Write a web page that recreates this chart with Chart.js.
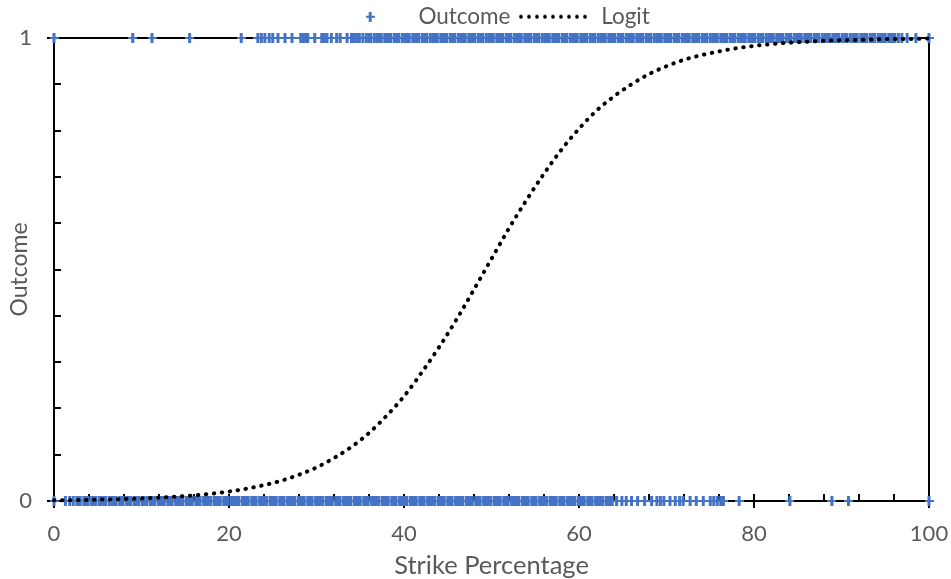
<!DOCTYPE html>
<html>
<head>
<meta charset="utf-8">
<script src="https://cdn.jsdelivr.net/npm/chart.js@4.4.1/dist/chart.umd.min.js"></script>
<style>
  body { margin: 0; background: #fff; }
  canvas { display: block; }
</style>
</head>
<body>
<canvas id="chart" width="951" height="579"></canvas>
<script>
// ---- data ----
// strike percentage of the observations with outcome 0
const outcomeZeroX = [
  0, 1.3, 1.8, 2.2,
  2.6, 2.9, 3.0, 3.4, 3.7, 3.9, 4.3, 4.5, 4.8, 5.2, 5.4, 5.7, 5.9, 6.3, 6.6, 6.8, 7.1, 7.5, 7.7, 7.9, 8.3, 8.6, 8.8, 9.2, 9.4, 9.7,
  10.1, 10.3, 10.6, 11.0, 11.2, 11.5, 11.9, 12.1, 12.4, 12.6, 13.0, 13.3, 13.5, 13.9, 14.2, 14.4, 14.7, 15.1, 15.3, 15.6, 15.8, 16.2, 16.5, 16.7, 17.1, 17.4, 17.6, 17.9, 18.3, 18.5, 18.8, 19.0, 19.4, 19.7, 19.9,
  20.3, 20.6, 20.8, 21.1, 21.5, 21.7, 22.0, 22.2, 22.6, 22.9, 23.1, 23.5, 23.8, 24.0, 24.3, 24.7, 24.9, 25.2, 25.4, 25.8, 26.1, 26.3, 26.7, 27.0, 27.2, 27.5, 27.9, 28.1, 28.4, 28.6, 29.0, 29.3, 29.5, 29.9,
  30.2, 30.4, 30.7, 31.1, 31.3, 31.6, 31.8, 32.2, 32.5, 32.7, 33.1, 33.4, 33.6, 33.9, 34.3, 34.5, 34.8, 35.0, 35.4, 35.7, 35.9, 36.3, 36.6, 36.8, 37.1, 37.5, 37.7, 38.0, 38.2, 38.6, 38.9, 39.1, 39.5, 39.8,
  40.0, 40.3, 40.7, 40.9, 41.2, 41.4, 41.8, 42.1, 42.3, 42.7, 43.0, 43.2, 43.5, 43.9, 44.1, 44.4, 44.6, 45.0, 45.3, 45.5, 45.9, 46.2, 46.4, 46.7, 47.1, 47.3, 47.6, 47.8, 48.2, 48.5, 48.7, 49.1, 49.4, 49.6, 49.9,
  50.3, 50.5, 50.8, 51.0, 51.4, 51.7, 51.9, 52.3, 52.6, 52.8, 53.1, 53.5, 53.7, 54.0, 54.2, 54.6, 54.9, 55.1, 55.5, 55.8, 56.0, 56.3, 56.7, 56.9, 57.2, 57.4, 57.8, 58.1, 58.3, 58.7, 59.0, 59.2, 59.5, 59.9,
  60.1, 60.4, 60.6, 61.0, 61.3, 61.5, 61.9, 62.2, 62.4, 62.7, 63.1, 63.3, 63.6, 63.8, 64.3,
  64.9, 65.4, 66.0, 66.7, 67.5, 68.3, 68.9, 69.3, 69.7, 70.4, 71.0, 71.5, 71.9, 72.7, 73.4, 74.2,
  75.0, 75.4, 75.8, 76.2, 76.5, 78.3, 84.1, 88.9, 90.8, 100
];

// strike percentage of the observations with outcome 1
const outcomeOneX = [
  0, 9.0, 11.2, 15.5, 21.4, 23.3, 23.7, 24.1, 24.6, 25.0, 25.6, 26.4, 27.2, 28.2, 28.5, 28.8, 29.0, 29.8,
  30.6, 30.9, 31.2, 31.7, 32.3, 32.7, 33.5, 34.0, 34.3, 34.6, 34.9, 35.3,
  35.7, 36.0, 36.2, 36.6, 36.9, 37.1, 37.4, 37.8, 38.0, 38.3, 38.5, 38.9, 39.2, 39.4, 39.8,
  40.1, 40.3, 40.6, 41.0, 41.2, 41.5, 41.7, 42.1, 42.4, 42.6, 43.0, 43.3, 43.5, 43.8, 44.2, 44.4, 44.7, 44.9, 45.3, 45.6, 45.8, 46.2, 46.5, 46.7, 47.0, 47.4, 47.6, 47.9, 48.1, 48.5, 48.8, 49.0, 49.4, 49.7, 49.9,
  50.2, 50.6, 50.8, 51.1, 51.3, 51.7, 52.0, 52.2, 52.6, 52.9, 53.1, 53.4, 53.8, 54.0, 54.3, 54.5, 54.9, 55.2, 55.4, 55.8, 56.1, 56.3, 56.6, 57.0, 57.2, 57.5, 57.7, 58.1, 58.4, 58.6, 59.0, 59.3, 59.5, 59.8,
  60.2, 60.4, 60.7, 60.9, 61.3, 61.6, 61.8, 62.2, 62.5, 62.7, 63.0, 63.4, 63.6, 63.9, 64.1, 64.5, 64.8, 65.0, 65.4, 65.7, 65.9, 66.2, 66.6, 66.8, 67.1, 67.3, 67.7, 68.0, 68.2, 68.6, 68.9, 69.1, 69.4, 69.8,
  70.0, 70.3, 70.5, 70.9, 71.2, 71.4, 71.8, 72.1, 72.3, 72.6, 73.0, 73.2, 73.5, 73.7, 74.1, 74.4, 74.6, 75.0, 75.3, 75.5, 75.8, 76.2, 76.4, 76.7, 76.9, 77.3, 77.6, 77.8, 78.2, 78.5, 78.7, 79.0, 79.4, 79.6, 79.9,
  80.1, 80.5, 80.8, 81.0, 81.4, 81.7, 81.9, 82.2, 82.6, 82.8, 83.1, 83.3, 83.7, 84.0, 84.2, 84.6, 84.9, 85.1, 85.4, 85.8, 86.0, 86.3, 86.5, 86.9, 87.2, 87.4, 87.8, 88.1, 88.3, 88.6, 89.0, 89.2, 89.5, 89.7,
  90.1, 90.4, 90.6, 91.0, 91.3, 91.5, 91.8, 92.2, 92.4, 92.7, 92.9, 93.3, 93.6, 93.8, 94.2, 94.5, 94.7, 95.0, 95.4, 95.6, 95.9, 96.1, 96.5, 96.9,
  97.5, 98.5, 100
];

// fitted logit curve, sampled every 2 points of strike percentage
const curveX = [
  0, 2, 4, 6, 8, 10, 12, 14, 16, 18, 20, 22, 24, 26, 28, 30, 32, 34, 36, 38, 40, 42, 44, 46, 48, 50,
  52, 54, 56, 58, 60, 62, 64, 66, 68, 70, 72, 74, 76, 78, 80, 82, 84, 86, 88, 90, 92, 94, 96, 98, 100
];
const curveP = [
  0.0015, 0.0019, 0.0025, 0.0033, 0.0043, 0.0056, 0.0072, 0.0094, 0.0122, 0.0158, 0.0204, 0.0266, 0.0343,
  0.0439, 0.0568, 0.0725, 0.0928, 0.117, 0.147, 0.184, 0.226, 0.277, 0.332, 0.392, 0.457, 0.523,
  0.589, 0.650, 0.707, 0.759, 0.804, 0.843, 0.874, 0.900, 0.922, 0.939, 0.953, 0.963, 0.971, 0.978,
  0.983, 0.987, 0.990, 0.992, 0.994, 0.995, 0.996, 0.997, 0.998, 0.998, 0.999
];

const outcomeValues = [0, 1];

// ---- styling ----
const BLUE = '#4472C4';
const TEXT = '#595959';
const TICK_FONT = { family: 'Lato', size: 22 };
const LEGEND_FONT = { family: 'Lato', size: 22.5 };
const Y_TITLE_FONT = { family: 'Lato', size: 23 };
const X_TITLE_FONT = { family: 'Lato', size: 25.5, lineHeight: 1.0 };

Chart.defaults.font.family = 'Lato';
Chart.defaults.color = TEXT;

// Excel-like "+" marker, a bit taller than wide
const plus = document.createElement('canvas');
plus.width = 9;
plus.height = 10;
const pc = plus.getContext('2d');
pc.fillStyle = BLUE;
pc.fillRect(3, 0, 3, 10);
pc.fillRect(0, 4, 9, 2);

// round-dot legend sample for the logit line
const dotLine = document.createElement('canvas');
dotLine.width = 68;
dotLine.height = 6;
const dc = dotLine.getContext('2d');
dc.fillStyle = '#000';
for (let i = 0; i < 9; i++) {
  dc.beginPath();
  dc.arc(2 + i * 8, 3, 1.9, 0, Math.PI * 2);
  dc.fill();
}

const scatterData = [
  ...outcomeZeroX.map(x => ({ x, y: outcomeValues[0] })),
  ...outcomeOneX.map(x => ({ x, y: outcomeValues[1] }))
];
const curveData = curveX.map((x, i) => ({ x, y: curveP[i] }));

const fixWidth = w => scale => { scale.width = w; };
const fixHeight = h => scale => { scale.height = h; };

new Chart(document.getElementById('chart'), {
  type: 'scatter',
  data: {
    datasets: [
      {
        // first dataset is painted last, so the dots sit on top of the markers
        label: 'Logit',
        type: 'line',
        data: curveData,
        borderColor: '#000',
        borderWidth: 4,
        borderDash: [0.5, 7.5],
        borderCapStyle: 'round',
        cubicInterpolationMode: 'monotone',
        pointRadius: 0,
        fill: false,
        clip: false
      },
      {
        label: 'Outcome',
        data: scatterData,
        pointStyle: plus,
        pointRadius: 4,
        clip: false
      }
    ]
  },
  options: {
    responsive: false,
    animation: false,
    layout: { padding: { left: 0, right: 22, top: 0, bottom: 0 } },
    plugins: {
      tooltip: { enabled: false },
      legend: {
        position: 'top',
        fullSize: false,
        labels: {
          font: LEGEND_FONT,
          color: TEXT,
          padding: 5.5,
          usePointStyle: true,
          pointStyleWidth: 74,
          generateLabels: chart => {
            const ds = chart.data.datasets;
            return [
              { text: ds[1].label, pointStyle: plus, fontColor: TEXT, lineWidth: 0, datasetIndex: 1 },
              { text: ds[0].label, pointStyle: dotLine, fontColor: TEXT, lineWidth: 0, datasetIndex: 0 }
            ];
          }
        }
      }
    },
    scales: {
      x: {
        type: 'linear',
        position: 'bottom',
        weight: 1,
        min: 0,
        max: 100,
        ticks: { stepSize: 20, font: TICK_FONT, color: TEXT, padding: 13 },
        grid: { drawOnChartArea: false, tickLength: 7, color: '#000', lineWidth: 2 },
        border: { color: '#000', width: 2 },
        title: { display: true, text: 'Strike Percentage', font: X_TITLE_FONT, color: TEXT, padding: { top: 0, bottom: 0 } },
        afterFit: scale => {
          scale.height = 78;
          // the "100" label may hang into the right margin
          scale.paddingLeft = 0;
          scale.paddingRight = 0;
        }
      },
      x2: {
        // minor ticks pointing into the plot
        type: 'linear',
        position: 'bottom',
        weight: 0,
        min: 0,
        max: 100,
        ticks: { stepSize: 4, display: false },
        grid: { drawOnChartArea: false, tickLength: -7, color: '#000', lineWidth: 2 },
        border: { display: false },
        afterFit: fixHeight(0)
      },
      y: {
        type: 'linear',
        position: 'left',
        weight: 1,
        min: 0,
        max: 1,
        ticks: { stepSize: 1, font: TICK_FONT, color: TEXT, padding: 15 },
        grid: { drawOnChartArea: false, tickLength: 7, color: '#000', lineWidth: 2 },
        border: { color: '#000', width: 2 },
        title: { display: true, text: 'Outcome', font: Y_TITLE_FONT, color: TEXT, padding: { top: 6, bottom: 0 } },
        afterFit: fixWidth(54)
      },
      y2: {
        type: 'linear',
        position: 'left',
        weight: 0,
        min: 0,
        max: 1,
        ticks: { stepSize: 0.1, display: false },
        grid: { drawOnChartArea: false, tickLength: -7, color: '#000', lineWidth: 2 },
        border: { display: false },
        afterFit: fixWidth(0)
      },
      xTop: {
        // plot frame, top edge
        type: 'linear',
        position: 'top',
        min: 0,
        max: 100,
        ticks: { display: false },
        grid: { display: false, drawTicks: false },
        border: { color: '#000', width: 2 },
        afterFit: fixHeight(0)
      },
      yRight: {
        // plot frame, right edge
        type: 'linear',
        position: 'right',
        min: 0,
        max: 1,
        ticks: { display: false },
        grid: { display: false, drawTicks: false },
        border: { color: '#000', width: 2 },
        afterFit: fixWidth(0)
      }
    }
  }
});
</script>
</body>
</html>
